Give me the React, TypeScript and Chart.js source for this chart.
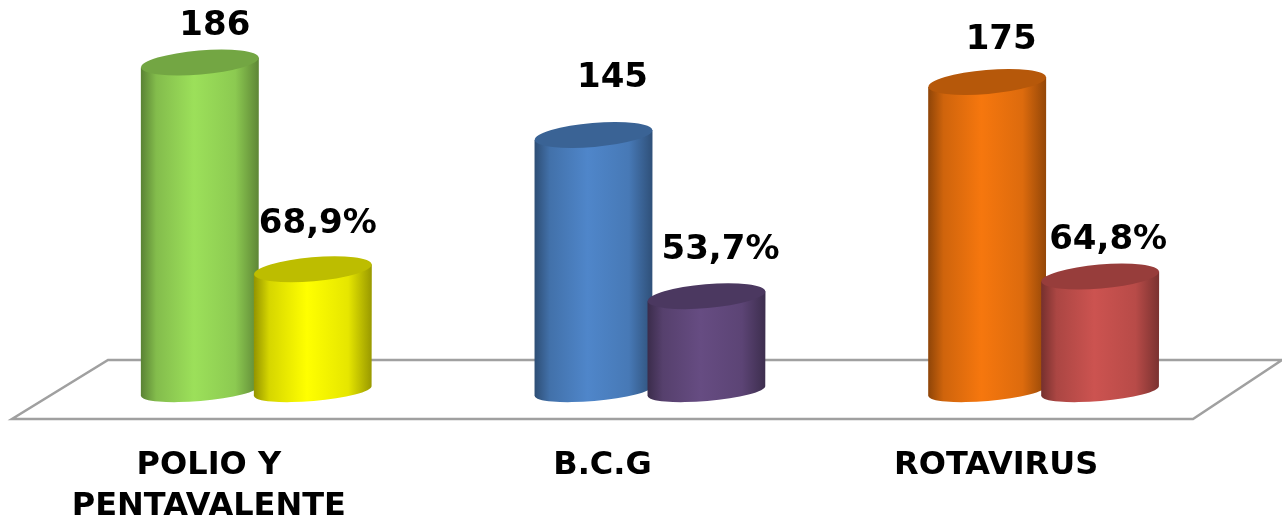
import React, { useEffect, useRef } from "react";
import { Chart, registerables } from "chart.js";

Chart.register(...registerables);

const categories = [["POLIO Y", "PENTAVALENTE"], "B.C.G", "ROTAVIRUS"];
const countValues = [186, 145, 175];
const percentValues = [68.9, 53.7, 64.8];
const countColors = ["#9CE05A", "#4F86CA", "#F6770E"];
const percentColors = ["#FFFF00", "#664C82", "#CC5350"];

// hand placement of the value labels, relative to each cylinder's top centre
const countLabelNudge = [[15, -36.5], [19, -57], [14, -42]];
const percentLabelNudge = [[5, -45.5], [14, -46], [8, -36]];

const FONT = '"DejaVu Sans", sans-serif';
const DEPTH_X = 47.5;
const DEPTH_Y = -28;
const TILT = -0.085;

function shade(hex: string, f: number) {
  const n = parseInt(hex.slice(1), 16);
  const r = Math.round(((n >> 16) & 255) * f);
  const g = Math.round(((n >> 8) & 255) * f);
  const b = Math.round((n & 255) * f);
  return `rgb(${r},${g},${b})`;
}

function drawCylinder(ctx: CanvasRenderingContext2D, el: any, color: string) {
  const cx = el.x + DEPTH_X;
  const a = el.width / 2;
  const top = el.y + DEPTH_Y;
  const bottom = el.base + DEPTH_Y;
  const dy = a * Math.sin(-TILT);
  const left = cx - a;
  const right = cx + a;
  const grad = ctx.createLinearGradient(left, 0, right, 0);
  grad.addColorStop(0, shade(color, 0.58));
  grad.addColorStop(0.13, shade(color, 0.84));
  grad.addColorStop(0.45, color);
  grad.addColorStop(0.8, shade(color, 0.9));
  grad.addColorStop(1, shade(color, 0.6));
  ctx.beginPath();
  ctx.moveTo(left, top + dy);
  ctx.lineTo(left, bottom + dy);
  ctx.ellipse(cx, bottom, a, 10, TILT, Math.PI, 0, true);
  ctx.lineTo(right, top - dy);
  ctx.closePath();
  ctx.fillStyle = grad;
  ctx.fill();
  ctx.beginPath();
  ctx.ellipse(cx, top, a, 12, TILT, 0, Math.PI * 2);
  ctx.fillStyle = shade(color, 0.74);
  ctx.fill();
}

const cylinderPlugin = {
  id: "cylinders",
  beforeDatasetsDraw(chart: any) {
    const ctx: CanvasRenderingContext2D = chart.ctx;
    const { left, right, bottom } = chart.chartArea;
    ctx.save();
    ctx.beginPath();
    ctx.moveTo(left, bottom);
    ctx.lineTo(right, bottom);
    ctx.lineTo(right + 89, bottom - 59);
    ctx.lineTo(left + 96, bottom - 59);
    ctx.closePath();
    ctx.strokeStyle = "#A0A0A0";
    ctx.lineWidth = 2.5;
    ctx.stroke();

    chart.data.datasets.forEach((ds: any, di: number) => {
      chart.getDatasetMeta(di).data.forEach((el: any, i: number) => {
        drawCylinder(ctx, el, ds.backgroundColor[i]);
      });
    });

    ctx.fillStyle = "#000000";
    ctx.font = `700 34px ${FONT}`;
    ctx.textAlign = "center";
    ctx.textBaseline = "middle";
    chart.data.datasets.forEach((ds: any, di: number) => {
      chart.getDatasetMeta(di).data.forEach((el: any, i: number) => {
        const [nx, ny] = ds.labelNudge[i];
        const v = ds.data[i];
        const text = ds.isPercent ? `${v.toFixed(1).replace(".", ",")}%` : String(v);
        ctx.fillText(text, el.x + DEPTH_X + nx, el.y + DEPTH_Y + ny);
      });
    });
    ctx.restore();
    return false;
  },
};

export default function App() {
  const ref = useRef<HTMLCanvasElement>(null);
  useEffect(() => {
    document.body.style.background = "#ffffff";
    const chart = new Chart(ref.current as HTMLCanvasElement, {
      type: "bar",
      data: {
        labels: categories as any,
        datasets: [
          { label: "Dosis", data: countValues, backgroundColor: countColors, labelNudge: countLabelNudge, isPercent: false } as any,
          { label: "Porcentaje", data: percentValues, backgroundColor: percentColors, labelNudge: percentLabelNudge, isPercent: true } as any,
        ],
      },
      plugins: [cylinderPlugin as any],
      options: {
        responsive: false,
        animation: false,
        layout: { padding: { top: 4, left: 12, right: 89, bottom: 0 } },
        datasets: { bar: { categoryPercentage: 0.574, barPercentage: 1.044 } },
        plugins: { legend: { display: false }, tooltip: { enabled: false } },
        scales: {
          y: { display: false, min: 0, max: 235 },
          x: {
            afterFit: (s: any) => { s.height = 100; },
            grid: { display: false },
            border: { display: false },
            ticks: {
              autoSkip: false,
              maxRotation: 0,
              padding: 18,
              color: "#000000",
              font: { family: FONT, weight: "bold", size: 32, lineHeight: "41px" } as any,
            },
          },
        },
      } as any,
    });
    return () => chart.destroy();
  }, []);
  return (
    <div style={{ position: "absolute", left: 0, top: 0, width: 1282, height: 519, background: "#fff" }}>
      <canvas ref={ref} width={1282} height={519} style={{ display: "block", filter: "blur(0.5px)" }} />
    </div>
  );
}
